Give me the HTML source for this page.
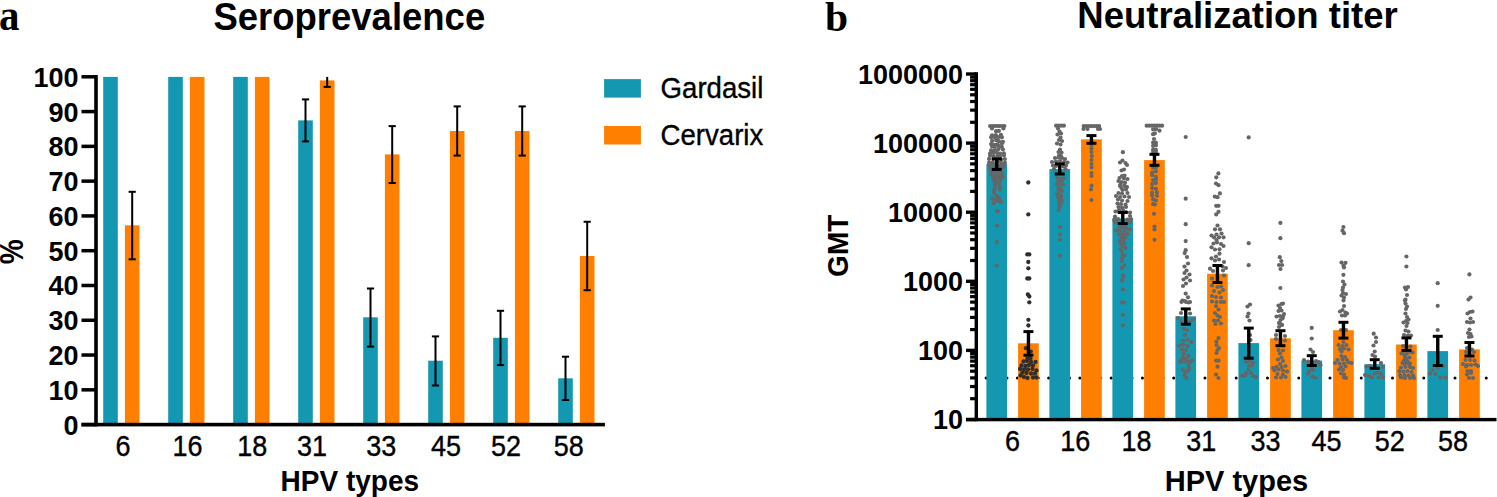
<!DOCTYPE html>
<html><head><meta charset="utf-8"><style>
html,body{margin:0;padding:0;background:#fff;}
svg{display:block;}
text{fill:#000;}
</style></head><body>
<svg width="1497" height="497" viewBox="0 0 1497 497">
<rect width="1497" height="497" fill="#fff"/>
<rect x="103.2" y="76.9" width="14.6" height="347.70" fill="#1497b1"/>
<rect x="124.9" y="225.3" width="14.6" height="199.30" fill="#ff8000"/>
<rect x="168.2" y="76.9" width="14.6" height="347.70" fill="#1497b1"/>
<rect x="189.9" y="76.9" width="14.6" height="347.70" fill="#ff8000"/>
<rect x="233.2" y="76.9" width="14.6" height="347.70" fill="#1497b1"/>
<rect x="254.9" y="76.9" width="14.6" height="347.70" fill="#ff8000"/>
<rect x="298.2" y="120.4" width="14.6" height="304.20" fill="#1497b1"/>
<rect x="319.9" y="80.4" width="14.6" height="344.20" fill="#ff8000"/>
<rect x="363.2" y="317.3" width="14.6" height="107.30" fill="#1497b1"/>
<rect x="384.9" y="154.4" width="14.6" height="270.20" fill="#ff8000"/>
<rect x="428.2" y="360.7" width="14.6" height="63.90" fill="#1497b1"/>
<rect x="449.9" y="131.0" width="14.6" height="293.60" fill="#ff8000"/>
<rect x="493.2" y="337.8" width="14.6" height="86.80" fill="#1497b1"/>
<rect x="514.9" y="131.0" width="14.6" height="293.60" fill="#ff8000"/>
<rect x="558.2" y="378.3" width="14.6" height="46.30" fill="#1497b1"/>
<rect x="579.9" y="256.0" width="14.6" height="168.60" fill="#ff8000"/>
<line x1="132.20000000000002" y1="191.8" x2="132.20000000000002" y2="259.3" stroke="#000" stroke-width="2"/>
<line x1="128.60000000000002" y1="191.8" x2="135.8" y2="191.8" stroke="#000" stroke-width="2"/>
<line x1="128.60000000000002" y1="259.3" x2="135.8" y2="259.3" stroke="#000" stroke-width="2"/>
<line x1="305.5" y1="99.4" x2="305.5" y2="141.4" stroke="#000" stroke-width="2"/>
<line x1="301.9" y1="99.4" x2="309.1" y2="99.4" stroke="#000" stroke-width="2"/>
<line x1="301.9" y1="141.4" x2="309.1" y2="141.4" stroke="#000" stroke-width="2"/>
<line x1="327.2" y1="76.9" x2="327.2" y2="86.9" stroke="#000" stroke-width="2"/>
<line x1="323.59999999999997" y1="86.9" x2="330.8" y2="86.9" stroke="#000" stroke-width="2"/>
<line x1="370.5" y1="288.5" x2="370.5" y2="346.6" stroke="#000" stroke-width="2"/>
<line x1="366.9" y1="288.5" x2="374.1" y2="288.5" stroke="#000" stroke-width="2"/>
<line x1="366.9" y1="346.6" x2="374.1" y2="346.6" stroke="#000" stroke-width="2"/>
<line x1="392.2" y1="126.1" x2="392.2" y2="183.0" stroke="#000" stroke-width="2"/>
<line x1="388.59999999999997" y1="126.1" x2="395.8" y2="126.1" stroke="#000" stroke-width="2"/>
<line x1="388.59999999999997" y1="183.0" x2="395.8" y2="183.0" stroke="#000" stroke-width="2"/>
<line x1="435.5" y1="336.4" x2="435.5" y2="385.5" stroke="#000" stroke-width="2"/>
<line x1="431.9" y1="336.4" x2="439.1" y2="336.4" stroke="#000" stroke-width="2"/>
<line x1="431.9" y1="385.5" x2="439.1" y2="385.5" stroke="#000" stroke-width="2"/>
<line x1="457.2" y1="106.4" x2="457.2" y2="155.6" stroke="#000" stroke-width="2"/>
<line x1="453.59999999999997" y1="106.4" x2="460.8" y2="106.4" stroke="#000" stroke-width="2"/>
<line x1="453.59999999999997" y1="155.6" x2="460.8" y2="155.6" stroke="#000" stroke-width="2"/>
<line x1="500.5" y1="310.8" x2="500.5" y2="365.1" stroke="#000" stroke-width="2"/>
<line x1="496.9" y1="310.8" x2="504.1" y2="310.8" stroke="#000" stroke-width="2"/>
<line x1="496.9" y1="365.1" x2="504.1" y2="365.1" stroke="#000" stroke-width="2"/>
<line x1="522.1999999999999" y1="106.4" x2="522.1999999999999" y2="155.6" stroke="#000" stroke-width="2"/>
<line x1="518.5999999999999" y1="106.4" x2="525.8" y2="106.4" stroke="#000" stroke-width="2"/>
<line x1="518.5999999999999" y1="155.6" x2="525.8" y2="155.6" stroke="#000" stroke-width="2"/>
<line x1="565.5" y1="356.7" x2="565.5" y2="400.0" stroke="#000" stroke-width="2"/>
<line x1="561.9" y1="356.7" x2="569.1" y2="356.7" stroke="#000" stroke-width="2"/>
<line x1="561.9" y1="400.0" x2="569.1" y2="400.0" stroke="#000" stroke-width="2"/>
<line x1="587.1999999999999" y1="221.75" x2="587.1999999999999" y2="290.2" stroke="#000" stroke-width="2"/>
<line x1="583.5999999999999" y1="221.75" x2="590.8" y2="221.75" stroke="#000" stroke-width="2"/>
<line x1="583.5999999999999" y1="290.2" x2="590.8" y2="290.2" stroke="#000" stroke-width="2"/>
<rect x="94.2" y="75.0" width="3.6" height="351.4" fill="#000"/>
<rect x="81.5" y="422.85" width="14" height="3.5" fill="#000"/>
<rect x="81.5" y="388.07" width="14" height="3.5" fill="#000"/>
<rect x="81.5" y="353.29" width="14" height="3.5" fill="#000"/>
<rect x="81.5" y="318.51" width="14" height="3.5" fill="#000"/>
<rect x="81.5" y="283.73" width="14" height="3.5" fill="#000"/>
<rect x="81.5" y="248.95" width="14" height="3.5" fill="#000"/>
<rect x="81.5" y="214.17" width="14" height="3.5" fill="#000"/>
<rect x="81.5" y="179.39" width="14" height="3.5" fill="#000"/>
<rect x="81.5" y="144.61" width="14" height="3.5" fill="#000"/>
<rect x="81.5" y="109.83" width="14" height="3.5" fill="#000"/>
<rect x="81.5" y="75.05" width="14" height="3.5" fill="#000"/>
<rect x="81.5" y="422.8" width="523.4" height="3.6" fill="#000"/>
<text transform="translate(78.50,434.60) scale(1.0,1.05)" style="font-size:27px;font-weight:bold;font-family:'Liberation Sans',sans-serif;text-anchor:end">0</text>
<text transform="translate(78.50,399.82) scale(1.0,1.05)" style="font-size:27px;font-weight:bold;font-family:'Liberation Sans',sans-serif;text-anchor:end">10</text>
<text transform="translate(78.50,365.04) scale(1.0,1.05)" style="font-size:27px;font-weight:bold;font-family:'Liberation Sans',sans-serif;text-anchor:end">20</text>
<text transform="translate(78.50,330.26) scale(1.0,1.05)" style="font-size:27px;font-weight:bold;font-family:'Liberation Sans',sans-serif;text-anchor:end">30</text>
<text transform="translate(78.50,295.48) scale(1.0,1.05)" style="font-size:27px;font-weight:bold;font-family:'Liberation Sans',sans-serif;text-anchor:end">40</text>
<text transform="translate(78.50,260.70) scale(1.0,1.05)" style="font-size:27px;font-weight:bold;font-family:'Liberation Sans',sans-serif;text-anchor:end">50</text>
<text transform="translate(78.50,225.92) scale(1.0,1.05)" style="font-size:27px;font-weight:bold;font-family:'Liberation Sans',sans-serif;text-anchor:end">60</text>
<text transform="translate(78.50,191.14) scale(1.0,1.05)" style="font-size:27px;font-weight:bold;font-family:'Liberation Sans',sans-serif;text-anchor:end">70</text>
<text transform="translate(78.50,156.36) scale(1.0,1.05)" style="font-size:27px;font-weight:bold;font-family:'Liberation Sans',sans-serif;text-anchor:end">80</text>
<text transform="translate(78.50,121.58) scale(1.0,1.05)" style="font-size:27px;font-weight:bold;font-family:'Liberation Sans',sans-serif;text-anchor:end">90</text>
<text transform="translate(78.50,86.80) scale(1.0,1.05)" style="font-size:27px;font-weight:bold;font-family:'Liberation Sans',sans-serif;text-anchor:end">100</text>
<text transform="translate(123.00,455.80) scale(1.0,1.1)" style="font-size:27px;font-weight:normal;font-family:'Liberation Sans',sans-serif;text-anchor:middle;stroke:#000;stroke-width:0.35px">6</text>
<text transform="translate(187.50,455.80) scale(1.0,1.1)" style="font-size:27px;font-weight:normal;font-family:'Liberation Sans',sans-serif;text-anchor:middle;stroke:#000;stroke-width:0.35px">16</text>
<text transform="translate(252.20,455.80) scale(1.0,1.1)" style="font-size:27px;font-weight:normal;font-family:'Liberation Sans',sans-serif;text-anchor:middle;stroke:#000;stroke-width:0.35px">18</text>
<text transform="translate(311.90,455.80) scale(1.0,1.1)" style="font-size:27px;font-weight:normal;font-family:'Liberation Sans',sans-serif;text-anchor:middle;stroke:#000;stroke-width:0.35px">31</text>
<text transform="translate(381.30,455.80) scale(1.0,1.1)" style="font-size:27px;font-weight:normal;font-family:'Liberation Sans',sans-serif;text-anchor:middle;stroke:#000;stroke-width:0.35px">33</text>
<text transform="translate(446.00,455.80) scale(1.0,1.1)" style="font-size:27px;font-weight:normal;font-family:'Liberation Sans',sans-serif;text-anchor:middle;stroke:#000;stroke-width:0.35px">45</text>
<text transform="translate(506.00,455.80) scale(1.0,1.1)" style="font-size:27px;font-weight:normal;font-family:'Liberation Sans',sans-serif;text-anchor:middle;stroke:#000;stroke-width:0.35px">52</text>
<text transform="translate(568.80,455.80) scale(1.0,1.1)" style="font-size:27px;font-weight:normal;font-family:'Liberation Sans',sans-serif;text-anchor:middle;stroke:#000;stroke-width:0.35px">58</text>
<text transform="translate(349.80,491.20) scale(1.0,1.08)" style="font-size:28px;font-weight:bold;font-family:'Liberation Sans',sans-serif;text-anchor:middle">HPV types</text>
<text transform="translate(349.30,29.80) scale(1.0,1.08)" style="font-size:36.5px;font-weight:bold;font-family:'Liberation Sans',sans-serif;text-anchor:middle">Seroprevalence</text>
<text transform="translate(-1.00,30.10) scale(1.0,1.08)" style="font-size:41px;font-weight:bold;font-family:'Liberation Serif',serif;text-anchor:start">a</text>
<text transform="translate(22.50,251.80) rotate(-90) scale(1.0,1.17)" style="font-size:28px;font-weight:bold;font-family:'Liberation Sans',sans-serif;text-anchor:middle">%</text>
<rect x="604.1" y="79.1" width="36.8" height="18.5" fill="#1497b1"/>
<rect x="604.1" y="126" width="36.8" height="18.5" fill="#ff8000"/>
<text transform="translate(660.60,98.10) scale(1.0,1.08)" style="font-size:27.6px;font-weight:normal;font-family:'Liberation Sans',sans-serif;text-anchor:start;stroke:#000;stroke-width:0.35px">Gardasil</text>
<text transform="translate(660.60,145.20) scale(1.0,1.05)" style="font-size:27.6px;font-weight:normal;font-family:'Liberation Sans',sans-serif;text-anchor:start;stroke:#000;stroke-width:0.35px">Cervarix</text>
<circle cx="975.70" cy="378" r="1.5" fill="#000"/>
<circle cx="986.12" cy="378" r="1.5" fill="#000"/>
<circle cx="996.54" cy="378" r="1.5" fill="#000"/>
<circle cx="1006.96" cy="378" r="1.5" fill="#000"/>
<circle cx="1017.38" cy="378" r="1.5" fill="#000"/>
<circle cx="1027.80" cy="378" r="1.5" fill="#000"/>
<circle cx="1038.22" cy="378" r="1.5" fill="#000"/>
<circle cx="1048.64" cy="378" r="1.5" fill="#000"/>
<circle cx="1059.06" cy="378" r="1.5" fill="#000"/>
<circle cx="1069.48" cy="378" r="1.5" fill="#000"/>
<circle cx="1079.90" cy="378" r="1.5" fill="#000"/>
<circle cx="1090.32" cy="378" r="1.5" fill="#000"/>
<circle cx="1100.74" cy="378" r="1.5" fill="#000"/>
<circle cx="1111.16" cy="378" r="1.5" fill="#000"/>
<circle cx="1121.58" cy="378" r="1.5" fill="#000"/>
<circle cx="1132.00" cy="378" r="1.5" fill="#000"/>
<circle cx="1142.42" cy="378" r="1.5" fill="#000"/>
<circle cx="1152.84" cy="378" r="1.5" fill="#000"/>
<circle cx="1163.26" cy="378" r="1.5" fill="#000"/>
<circle cx="1173.68" cy="378" r="1.5" fill="#000"/>
<circle cx="1184.10" cy="378" r="1.5" fill="#000"/>
<circle cx="1194.52" cy="378" r="1.5" fill="#000"/>
<circle cx="1204.94" cy="378" r="1.5" fill="#000"/>
<circle cx="1215.36" cy="378" r="1.5" fill="#000"/>
<circle cx="1225.78" cy="378" r="1.5" fill="#000"/>
<circle cx="1236.20" cy="378" r="1.5" fill="#000"/>
<circle cx="1246.62" cy="378" r="1.5" fill="#000"/>
<circle cx="1257.04" cy="378" r="1.5" fill="#000"/>
<circle cx="1267.46" cy="378" r="1.5" fill="#000"/>
<circle cx="1277.88" cy="378" r="1.5" fill="#000"/>
<circle cx="1288.30" cy="378" r="1.5" fill="#000"/>
<circle cx="1298.72" cy="378" r="1.5" fill="#000"/>
<circle cx="1309.14" cy="378" r="1.5" fill="#000"/>
<circle cx="1319.56" cy="378" r="1.5" fill="#000"/>
<circle cx="1329.98" cy="378" r="1.5" fill="#000"/>
<circle cx="1340.40" cy="378" r="1.5" fill="#000"/>
<circle cx="1350.82" cy="378" r="1.5" fill="#000"/>
<circle cx="1361.24" cy="378" r="1.5" fill="#000"/>
<circle cx="1371.66" cy="378" r="1.5" fill="#000"/>
<circle cx="1382.08" cy="378" r="1.5" fill="#000"/>
<circle cx="1392.50" cy="378" r="1.5" fill="#000"/>
<circle cx="1402.92" cy="378" r="1.5" fill="#000"/>
<circle cx="1413.34" cy="378" r="1.5" fill="#000"/>
<circle cx="1423.76" cy="378" r="1.5" fill="#000"/>
<circle cx="1434.18" cy="378" r="1.5" fill="#000"/>
<circle cx="1444.60" cy="378" r="1.5" fill="#000"/>
<circle cx="1455.02" cy="378" r="1.5" fill="#000"/>
<circle cx="1465.44" cy="378" r="1.5" fill="#000"/>
<circle cx="1475.86" cy="378" r="1.5" fill="#000"/>
<circle cx="1486.28" cy="378" r="1.5" fill="#000"/>
<rect x="986.4" y="164.1" width="20.7" height="255.40" fill="#1497b1"/>
<rect x="1018.1" y="343.3" width="20.7" height="76.20" fill="#ff8000"/>
<rect x="1049.4" y="169.1" width="20.7" height="250.40" fill="#1497b1"/>
<rect x="1081.1" y="139.3" width="20.7" height="280.20" fill="#ff8000"/>
<rect x="1112.4" y="218.4" width="20.7" height="201.10" fill="#1497b1"/>
<rect x="1144.1" y="160.1" width="20.7" height="259.40" fill="#ff8000"/>
<rect x="1175.4" y="316.3" width="20.7" height="103.20" fill="#1497b1"/>
<rect x="1207.1" y="273.7" width="20.7" height="145.80" fill="#ff8000"/>
<rect x="1238.4" y="343.1" width="20.7" height="76.40" fill="#1497b1"/>
<rect x="1270.1" y="338.3" width="20.7" height="81.20" fill="#ff8000"/>
<rect x="1301.4" y="360.6" width="20.7" height="58.90" fill="#1497b1"/>
<rect x="1333.1" y="330.2" width="20.7" height="89.30" fill="#ff8000"/>
<rect x="1364.4" y="364.2" width="20.7" height="55.30" fill="#1497b1"/>
<rect x="1396.1" y="344.5" width="20.7" height="75.00" fill="#ff8000"/>
<rect x="1427.4" y="351.1" width="20.7" height="68.40" fill="#1497b1"/>
<rect x="1459.1" y="349.4" width="20.7" height="70.10" fill="#ff8000"/>
<g fill="#666666"><circle cx="990.1" cy="126.0" r="2.1"/><circle cx="992.5" cy="126.0" r="2.1"/><circle cx="994.9" cy="126.0" r="2.1"/><circle cx="997.2" cy="126.0" r="2.1"/><circle cx="999.6" cy="126.0" r="2.1"/><circle cx="1002.0" cy="126.0" r="2.1"/><circle cx="1004.4" cy="126.0" r="2.1"/><circle cx="992.0" cy="128.5" r="2.1"/><circle cx="1003.4" cy="128.5" r="2.1"/><circle cx="996.1" cy="131.2" r="2.1"/><circle cx="998.9" cy="130.9" r="2.1"/><circle cx="992.1" cy="135.3" r="2.1"/><circle cx="995.8" cy="135.1" r="2.1"/><circle cx="1000.9" cy="134.8" r="2.1"/><circle cx="991.1" cy="137.2" r="2.1"/><circle cx="994.7" cy="137.2" r="2.1"/><circle cx="998.2" cy="137.2" r="2.1"/><circle cx="1001.9" cy="137.3" r="2.1"/><circle cx="992.1" cy="140.9" r="2.1"/><circle cx="996.2" cy="140.3" r="2.1"/><circle cx="998.9" cy="141.2" r="2.1"/><circle cx="1002.9" cy="141.8" r="2.1"/><circle cx="991.1" cy="144.1" r="2.1"/><circle cx="994.5" cy="144.9" r="2.1"/><circle cx="997.6" cy="144.6" r="2.1"/><circle cx="1001.9" cy="143.6" r="2.1"/><circle cx="992.1" cy="146.4" r="2.1"/><circle cx="994.8" cy="146.7" r="2.1"/><circle cx="999.1" cy="146.4" r="2.1"/><circle cx="1001.9" cy="147.1" r="2.1"/><circle cx="991.1" cy="150.3" r="2.1"/><circle cx="994.8" cy="150.1" r="2.1"/><circle cx="998.3" cy="149.2" r="2.1"/><circle cx="1002.9" cy="149.5" r="2.1"/><circle cx="990.1" cy="153.3" r="2.1"/><circle cx="993.4" cy="152.7" r="2.1"/><circle cx="997.1" cy="152.9" r="2.1"/><circle cx="1000.1" cy="153.5" r="2.1"/><circle cx="1003.9" cy="153.4" r="2.1"/><circle cx="990.1" cy="155.5" r="2.1"/><circle cx="993.7" cy="156.0" r="2.1"/><circle cx="997.6" cy="156.4" r="2.1"/><circle cx="1000.1" cy="156.9" r="2.1"/><circle cx="1003.9" cy="155.3" r="2.1"/><circle cx="989.1" cy="158.9" r="2.1"/><circle cx="993.5" cy="158.4" r="2.1"/><circle cx="997.0" cy="158.2" r="2.1"/><circle cx="1001.2" cy="159.5" r="2.1"/><circle cx="1004.9" cy="159.1" r="2.1"/><circle cx="989.1" cy="162.7" r="2.1"/><circle cx="992.8" cy="162.4" r="2.1"/><circle cx="997.2" cy="162.1" r="2.1"/><circle cx="1000.9" cy="162.6" r="2.1"/><circle cx="1004.9" cy="162.8" r="2.1"/><circle cx="989.1" cy="165.0" r="2.1"/><circle cx="993.1" cy="164.2" r="2.1"/><circle cx="996.8" cy="165.3" r="2.1"/><circle cx="1001.0" cy="165.6" r="2.1"/><circle cx="1003.9" cy="164.6" r="2.1"/><circle cx="990.1" cy="167.8" r="2.1"/><circle cx="994.6" cy="167.1" r="2.1"/><circle cx="998.6" cy="167.4" r="2.1"/><circle cx="1002.9" cy="167.3" r="2.1"/><circle cx="991.1" cy="171.2" r="2.1"/><circle cx="995.1" cy="171.3" r="2.1"/><circle cx="997.9" cy="171.8" r="2.1"/><circle cx="1001.9" cy="172.7" r="2.1"/><circle cx="991.1" cy="174.2" r="2.1"/><circle cx="994.6" cy="175.1" r="2.1"/><circle cx="998.9" cy="175.6" r="2.1"/><circle cx="1001.9" cy="175.7" r="2.1"/><circle cx="993.1" cy="177.6" r="2.1"/><circle cx="996.2" cy="177.7" r="2.1"/><circle cx="1000.2" cy="178.8" r="2.1"/><circle cx="1002.9" cy="177.4" r="2.1"/><circle cx="994.1" cy="180.4" r="2.1"/><circle cx="996.6" cy="180.5" r="2.1"/><circle cx="999.9" cy="181.0" r="2.1"/><circle cx="995.1" cy="184.2" r="2.1"/><circle cx="998.9" cy="183.6" r="2.1"/><circle cx="995.1" cy="186.1" r="2.1"/><circle cx="999.9" cy="186.9" r="2.1"/><circle cx="994.5" cy="189.0" r="2.1"/><circle cx="1000.2" cy="189.6" r="2.1"/><circle cx="994.0" cy="191.5" r="2.1"/><circle cx="994.5" cy="194.0" r="2.1"/><circle cx="997.0" cy="196.0" r="2.1"/><circle cx="996.5" cy="198.5" r="2.1"/><circle cx="999.0" cy="198.0" r="2.1"/><circle cx="992.4" cy="198.7" r="2.1"/><circle cx="996.0" cy="200.5" r="2.1"/><circle cx="999.0" cy="201.0" r="2.1"/><circle cx="993.7" cy="203.2" r="2.1"/><circle cx="1001.0" cy="202.1" r="2.1"/><circle cx="997.1" cy="211.0" r="2.1"/><circle cx="998.0" cy="211.5" r="2.1"/><circle cx="997.0" cy="225.6" r="2.1"/><circle cx="996.7" cy="241.8" r="2.1"/><circle cx="996.7" cy="265.6" r="2.1"/></g>
<g fill="#2e2e2e"><circle cx="1028.3" cy="182.5" r="2.15"/><circle cx="1028.3" cy="214.4" r="2.15"/><circle cx="1027.3" cy="254.4" r="2.15"/><circle cx="1029.3" cy="254.4" r="2.15"/><circle cx="1028.3" cy="262.0" r="2.15"/><circle cx="1028.3" cy="268.3" r="2.15"/><circle cx="1027.3" cy="278.5" r="2.15"/><circle cx="1029.3" cy="278.5" r="2.15"/><circle cx="1027.9" cy="294.5" r="2.15"/><circle cx="1029.3" cy="296.5" r="2.15"/><circle cx="1029.3" cy="302.3" r="2.15"/><circle cx="1028.4" cy="319.8" r="2.15"/><circle cx="1028.4" cy="325.5" r="2.15"/><circle cx="1025.9" cy="348.2" r="2.15"/><circle cx="1030.8" cy="351.6" r="2.15"/><circle cx="1027.5" cy="358.5" r="2.15"/><circle cx="1030.5" cy="358.5" r="2.15"/><circle cx="1023.5" cy="361.5" r="2.15"/><circle cx="1027.0" cy="361.0" r="2.15"/><circle cx="1031.0" cy="362.0" r="2.15"/><circle cx="1035.5" cy="362.0" r="2.15"/><circle cx="1021.5" cy="365.5" r="2.15"/><circle cx="1025.5" cy="366.0" r="2.15"/><circle cx="1029.0" cy="365.0" r="2.15"/><circle cx="1033.0" cy="365.5" r="2.15"/><circle cx="1020.0" cy="369.0" r="2.15"/><circle cx="1024.0" cy="369.5" r="2.15"/><circle cx="1028.0" cy="369.5" r="2.15"/><circle cx="1032.5" cy="369.0" r="2.15"/><circle cx="1036.5" cy="370.5" r="2.15"/><circle cx="1022.5" cy="372.5" r="2.15"/><circle cx="1026.5" cy="373.0" r="2.15"/><circle cx="1031.0" cy="373.5" r="2.15"/><circle cx="1035.0" cy="373.5" r="2.15"/><circle cx="1020.5" cy="375.5" r="2.15"/><circle cx="1024.0" cy="377.0" r="2.15"/><circle cx="1033.0" cy="377.5" r="2.15"/><circle cx="1036.5" cy="377.5" r="2.15"/><circle cx="1027.5" cy="378.0" r="2.15"/></g>
<g fill="#666666"><circle cx="1056.1" cy="125.7" r="2.1"/><circle cx="1058.7" cy="125.7" r="2.1"/><circle cx="1061.3" cy="125.7" r="2.1"/><circle cx="1063.9" cy="125.7" r="2.1"/><circle cx="1058.0" cy="128.5" r="2.1"/><circle cx="1059.5" cy="131.5" r="2.1"/><circle cx="1057.5" cy="134.5" r="2.1"/><circle cx="1061.0" cy="133.5" r="2.1"/><circle cx="1060.5" cy="137.5" r="2.1"/><circle cx="1059.0" cy="140.0" r="2.1"/><circle cx="1062.0" cy="141.0" r="2.1"/><circle cx="1057.0" cy="143.5" r="2.1"/><circle cx="1060.5" cy="144.5" r="2.1"/><circle cx="1060.0" cy="149.5" r="2.1"/><circle cx="1058.5" cy="152.0" r="2.1"/><circle cx="1061.5" cy="152.5" r="2.1"/><circle cx="1059.0" cy="155.5" r="2.1"/><circle cx="1061.0" cy="156.0" r="2.1"/><circle cx="1055.0" cy="158.0" r="2.1"/><circle cx="1058.5" cy="157.5" r="2.1"/><circle cx="1062.0" cy="158.0" r="2.1"/><circle cx="1065.0" cy="159.0" r="2.1"/><circle cx="1052.0" cy="162.0" r="2.1"/><circle cx="1056.0" cy="161.5" r="2.1"/><circle cx="1060.0" cy="161.0" r="2.1"/><circle cx="1064.0" cy="162.0" r="2.1"/><circle cx="1067.5" cy="162.5" r="2.1"/><circle cx="1053.0" cy="165.5" r="2.1"/><circle cx="1066.0" cy="165.5" r="2.1"/><circle cx="1056.0" cy="166.0" r="2.1"/><circle cx="1063.5" cy="166.5" r="2.1"/><circle cx="1054.0" cy="169.0" r="2.1"/><circle cx="1065.5" cy="169.0" r="2.1"/><circle cx="1057.1" cy="177.8" r="2.1"/><circle cx="1060.6" cy="178.8" r="2.1"/><circle cx="1063.9" cy="178.3" r="2.1"/><circle cx="1058.1" cy="181.0" r="2.1"/><circle cx="1061.9" cy="181.2" r="2.1"/><circle cx="1057.1" cy="184.3" r="2.1"/><circle cx="1059.3" cy="184.7" r="2.1"/><circle cx="1062.9" cy="184.5" r="2.1"/><circle cx="1058.1" cy="188.7" r="2.1"/><circle cx="1060.9" cy="188.5" r="2.1"/><circle cx="1059.1" cy="190.8" r="2.1"/><circle cx="1061.9" cy="190.8" r="2.1"/><circle cx="1057.1" cy="194.3" r="2.1"/><circle cx="1060.9" cy="195.2" r="2.1"/><circle cx="1058.1" cy="197.2" r="2.1"/><circle cx="1060.9" cy="197.2" r="2.1"/><circle cx="1059.1" cy="200.5" r="2.1"/><circle cx="1061.9" cy="200.4" r="2.1"/><circle cx="1059.1" cy="203.7" r="2.1"/><circle cx="1060.9" cy="203.2" r="2.1"/><circle cx="1059.1" cy="206.1" r="2.1"/><circle cx="1059.9" cy="206.4" r="2.1"/><circle cx="1058.7" cy="210.0" r="2.1"/><circle cx="1060.0" cy="227.0" r="2.1"/><circle cx="1060.0" cy="234.5" r="2.1"/><circle cx="1060.0" cy="239.8" r="2.1"/><circle cx="1060.0" cy="255.7" r="2.1"/></g>
<g fill="#666666"><circle cx="1083.7" cy="126.1" r="2.1"/><circle cx="1086.3" cy="126.1" r="2.1"/><circle cx="1088.8" cy="126.1" r="2.1"/><circle cx="1091.4" cy="126.1" r="2.1"/><circle cx="1094.0" cy="126.1" r="2.1"/><circle cx="1096.5" cy="126.1" r="2.1"/><circle cx="1099.1" cy="126.1" r="2.1"/><circle cx="1083.5" cy="129.0" r="2.1"/><circle cx="1087.5" cy="129.0" r="2.1"/><circle cx="1098.0" cy="129.0" r="2.1"/><circle cx="1100.0" cy="129.0" r="2.1"/><circle cx="1091.5" cy="145.0" r="2.1"/><circle cx="1091.5" cy="148.5" r="2.1"/><circle cx="1091.5" cy="152.0" r="2.1"/><circle cx="1091.8" cy="156.0" r="2.1"/><circle cx="1091.5" cy="160.0" r="2.1"/><circle cx="1091.5" cy="164.0" r="2.1"/><circle cx="1091.5" cy="167.5" r="2.1"/><circle cx="1091.5" cy="173.0" r="2.1"/><circle cx="1091.5" cy="176.0" r="2.1"/><circle cx="1091.5" cy="185.7" r="2.1"/><circle cx="1091.0" cy="189.5" r="2.1"/><circle cx="1091.5" cy="200.1" r="2.1"/></g>
<g fill="#666666"><circle cx="1122.9" cy="152.2" r="2.1"/><circle cx="1120.0" cy="162.5" r="2.1"/><circle cx="1122.5" cy="160.5" r="2.1"/><circle cx="1125.5" cy="163.0" r="2.1"/><circle cx="1127.0" cy="165.0" r="2.1"/><circle cx="1121.5" cy="170.5" r="2.1"/><circle cx="1124.0" cy="169.5" r="2.1"/><circle cx="1122.0" cy="176.0" r="2.1"/><circle cx="1124.5" cy="175.5" r="2.1"/><circle cx="1119.5" cy="178.0" r="2.1"/><circle cx="1124.0" cy="178.5" r="2.1"/><circle cx="1127.5" cy="179.0" r="2.1"/><circle cx="1118.5" cy="181.0" r="2.1"/><circle cx="1121.5" cy="182.0" r="2.1"/><circle cx="1125.0" cy="182.5" r="2.1"/><circle cx="1120.5" cy="184.5" r="2.1"/><circle cx="1124.5" cy="185.5" r="2.1"/><circle cx="1127.0" cy="187.0" r="2.1"/><circle cx="1121.5" cy="188.0" r="2.1"/><circle cx="1120.0" cy="186.0" r="2.1"/><circle cx="1125.5" cy="187.0" r="2.1"/><circle cx="1122.5" cy="190.0" r="2.1"/><circle cx="1126.0" cy="189.5" r="2.1"/><circle cx="1118.5" cy="193.0" r="2.1"/><circle cx="1122.0" cy="193.5" r="2.1"/><circle cx="1127.5" cy="193.0" r="2.1"/><circle cx="1116.0" cy="196.0" r="2.1"/><circle cx="1120.0" cy="197.0" r="2.1"/><circle cx="1124.5" cy="196.5" r="2.1"/><circle cx="1129.0" cy="197.0" r="2.1"/><circle cx="1118.0" cy="199.5" r="2.1"/><circle cx="1122.0" cy="200.5" r="2.1"/><circle cx="1127.5" cy="201.0" r="2.1"/><circle cx="1117.5" cy="203.5" r="2.1"/><circle cx="1121.0" cy="204.0" r="2.1"/><circle cx="1125.5" cy="204.5" r="2.1"/><circle cx="1118.5" cy="207.0" r="2.1"/><circle cx="1122.0" cy="207.5" r="2.1"/><circle cx="1126.0" cy="207.0" r="2.1"/><circle cx="1119.0" cy="210.0" r="2.1"/><circle cx="1123.0" cy="210.0" r="2.1"/><circle cx="1115.5" cy="211.5" r="2.1"/><circle cx="1119.0" cy="211.5" r="2.1"/><circle cx="1126.0" cy="212.0" r="2.1"/><circle cx="1130.0" cy="212.5" r="2.1"/><circle cx="1115.0" cy="216.5" r="2.1"/><circle cx="1130.0" cy="216.0" r="2.1"/><circle cx="1114.5" cy="219.5" r="2.1"/><circle cx="1118.0" cy="219.0" r="2.1"/><circle cx="1127.5" cy="219.5" r="2.1"/><circle cx="1131.0" cy="219.0" r="2.1"/><circle cx="1116.0" cy="222.5" r="2.1"/><circle cx="1129.5" cy="222.5" r="2.1"/><circle cx="1114.5" cy="221.0" r="2.1"/><circle cx="1130.0" cy="221.5" r="2.1"/><circle cx="1119.0" cy="228.0" r="2.1"/><circle cx="1123.0" cy="227.5" r="2.1"/><circle cx="1126.0" cy="228.0" r="2.1"/><circle cx="1116.0" cy="230.5" r="2.1"/><circle cx="1120.0" cy="231.0" r="2.1"/><circle cx="1124.5" cy="231.5" r="2.1"/><circle cx="1129.5" cy="229.5" r="2.1"/><circle cx="1119.0" cy="234.5" r="2.1"/><circle cx="1123.0" cy="234.5" r="2.1"/><circle cx="1127.5" cy="234.0" r="2.1"/><circle cx="1121.5" cy="237.5" r="2.1"/><circle cx="1125.0" cy="237.5" r="2.1"/><circle cx="1120.0" cy="240.5" r="2.1"/><circle cx="1123.5" cy="241.0" r="2.1"/><circle cx="1120.5" cy="243.5" r="2.1"/><circle cx="1124.0" cy="244.0" r="2.1"/><circle cx="1122.5" cy="246.5" r="2.1"/><circle cx="1125.5" cy="248.0" r="2.1"/><circle cx="1120.5" cy="249.5" r="2.1"/><circle cx="1122.0" cy="251.0" r="2.1"/><circle cx="1122.5" cy="254.5" r="2.1"/><circle cx="1124.5" cy="255.5" r="2.1"/><circle cx="1122.0" cy="258.0" r="2.1"/><circle cx="1122.0" cy="261.0" r="2.1"/><circle cx="1124.3" cy="265.5" r="2.1"/><circle cx="1122.0" cy="268.2" r="2.1"/><circle cx="1123.0" cy="275.4" r="2.1"/><circle cx="1123.0" cy="277.5" r="2.1"/><circle cx="1122.0" cy="280.6" r="2.1"/><circle cx="1123.0" cy="289.5" r="2.1"/><circle cx="1122.0" cy="302.5" r="2.1"/><circle cx="1124.0" cy="302.5" r="2.1"/><circle cx="1123.0" cy="315.0" r="2.1"/><circle cx="1123.0" cy="325.5" r="2.1"/></g>
<g fill="#666666"><circle cx="1146.7" cy="125.7" r="2.1"/><circle cx="1149.3" cy="125.7" r="2.1"/><circle cx="1151.8" cy="125.7" r="2.1"/><circle cx="1154.4" cy="125.7" r="2.1"/><circle cx="1157.0" cy="125.7" r="2.1"/><circle cx="1159.5" cy="125.7" r="2.1"/><circle cx="1162.1" cy="125.7" r="2.1"/><circle cx="1153.1" cy="129.3" r="2.1"/><circle cx="1156.1" cy="129.1" r="2.1"/><circle cx="1159.5" cy="130.7" r="2.1"/><circle cx="1153.1" cy="134.2" r="2.1"/><circle cx="1154.9" cy="133.4" r="2.1"/><circle cx="1154.0" cy="139.0" r="2.1"/><circle cx="1153.1" cy="142.6" r="2.1"/><circle cx="1155.9" cy="142.7" r="2.1"/><circle cx="1153.1" cy="145.8" r="2.1"/><circle cx="1155.9" cy="145.3" r="2.1"/><circle cx="1153.1" cy="149.6" r="2.1"/><circle cx="1155.9" cy="149.9" r="2.1"/><circle cx="1153.1" cy="151.9" r="2.1"/><circle cx="1155.9" cy="152.0" r="2.1"/><circle cx="1154.1" cy="154.3" r="2.1"/><circle cx="1154.9" cy="154.3" r="2.1"/><circle cx="1153.1" cy="167.7" r="2.1"/><circle cx="1155.9" cy="167.6" r="2.1"/><circle cx="1152.1" cy="172.6" r="2.1"/><circle cx="1155.9" cy="171.4" r="2.1"/><circle cx="1152.1" cy="175.1" r="2.1"/><circle cx="1155.9" cy="176.8" r="2.1"/><circle cx="1153.1" cy="180.1" r="2.1"/><circle cx="1155.9" cy="179.4" r="2.1"/><circle cx="1152.1" cy="184.1" r="2.1"/><circle cx="1155.9" cy="183.1" r="2.1"/><circle cx="1152.1" cy="188.1" r="2.1"/><circle cx="1155.9" cy="188.9" r="2.1"/><circle cx="1152.1" cy="192.7" r="2.1"/><circle cx="1156.9" cy="192.4" r="2.1"/><circle cx="1152.1" cy="195.6" r="2.1"/><circle cx="1156.9" cy="195.8" r="2.1"/><circle cx="1153.1" cy="199.4" r="2.1"/><circle cx="1155.9" cy="200.5" r="2.1"/><circle cx="1153.1" cy="204.1" r="2.1"/><circle cx="1154.9" cy="204.5" r="2.1"/><circle cx="1154.0" cy="213.8" r="2.1"/><circle cx="1154.5" cy="226.5" r="2.1"/><circle cx="1154.5" cy="229.5" r="2.1"/><circle cx="1154.5" cy="239.8" r="2.1"/></g>
<g fill="#666666"><circle cx="1185.7" cy="137.0" r="2.1"/><circle cx="1185.7" cy="198.7" r="2.1"/><circle cx="1185.7" cy="224.2" r="2.1"/><circle cx="1185.7" cy="241.1" r="2.1"/><circle cx="1185.7" cy="250.2" r="2.1"/><circle cx="1184.7" cy="253.1" r="2.1"/><circle cx="1187.0" cy="257.0" r="2.1"/><circle cx="1188.0" cy="263.5" r="2.1"/><circle cx="1184.5" cy="266.5" r="2.1"/><circle cx="1186.5" cy="270.5" r="2.1"/><circle cx="1184.5" cy="273.0" r="2.1"/><circle cx="1189.5" cy="274.5" r="2.1"/><circle cx="1186.5" cy="277.5" r="2.1"/><circle cx="1183.5" cy="279.5" r="2.1"/><circle cx="1190.0" cy="280.5" r="2.1"/><circle cx="1186.0" cy="283.5" r="2.1"/><circle cx="1183.0" cy="286.0" r="2.1"/><circle cx="1185.7" cy="293.6" r="2.1"/><circle cx="1188.0" cy="297.3" r="2.1"/><circle cx="1182.5" cy="300.5" r="2.1"/><circle cx="1186.0" cy="302.0" r="2.1"/><circle cx="1190.0" cy="302.0" r="2.1"/><circle cx="1181.5" cy="302.0" r="2.1"/><circle cx="1185.0" cy="301.0" r="2.1"/><circle cx="1188.5" cy="302.5" r="2.1"/><circle cx="1181.0" cy="313.0" r="2.1"/><circle cx="1190.0" cy="313.5" r="2.1"/><circle cx="1178.0" cy="318.0" r="2.1"/><circle cx="1193.0" cy="319.0" r="2.1"/><circle cx="1181.0" cy="321.0" r="2.1"/><circle cx="1190.5" cy="321.0" r="2.1"/><circle cx="1184.0" cy="329.0" r="2.1"/><circle cx="1187.0" cy="330.0" r="2.1"/><circle cx="1185.0" cy="335.0" r="2.1"/><circle cx="1183.0" cy="340.5" r="2.1"/><circle cx="1187.5" cy="340.0" r="2.1"/><circle cx="1191.5" cy="342.0" r="2.1"/><circle cx="1179.0" cy="345.5" r="2.1"/><circle cx="1183.0" cy="344.5" r="2.1"/><circle cx="1187.5" cy="346.0" r="2.1"/><circle cx="1182.0" cy="349.5" r="2.1"/><circle cx="1186.0" cy="350.0" r="2.1"/><circle cx="1183.5" cy="353.5" r="2.1"/><circle cx="1188.0" cy="356.0" r="2.1"/><circle cx="1182.5" cy="358.5" r="2.1"/><circle cx="1186.0" cy="359.0" r="2.1"/><circle cx="1183.0" cy="357.0" r="2.1"/><circle cx="1188.5" cy="356.0" r="2.1"/><circle cx="1181.0" cy="361.0" r="2.1"/><circle cx="1185.0" cy="362.0" r="2.1"/><circle cx="1189.0" cy="361.5" r="2.1"/><circle cx="1192.0" cy="360.5" r="2.1"/><circle cx="1180.0" cy="362.0" r="2.1"/><circle cx="1189.5" cy="362.5" r="2.1"/><circle cx="1188.5" cy="365.5" r="2.1"/><circle cx="1183.0" cy="369.5" r="2.1"/><circle cx="1189.0" cy="368.5" r="2.1"/><circle cx="1185.5" cy="372.5" r="2.1"/><circle cx="1188.0" cy="370.5" r="2.1"/><circle cx="1184.5" cy="375.5" r="2.1"/><circle cx="1186.5" cy="378.0" r="2.1"/></g>
<g fill="#666666"><circle cx="1218.4" cy="173.4" r="2.1"/><circle cx="1216.3" cy="177.3" r="2.1"/><circle cx="1216.0" cy="183.5" r="2.1"/><circle cx="1218.5" cy="185.2" r="2.1"/><circle cx="1219.9" cy="193.4" r="2.1"/><circle cx="1214.8" cy="196.6" r="2.1"/><circle cx="1217.5" cy="197.2" r="2.1"/><circle cx="1216.2" cy="205.8" r="2.1"/><circle cx="1218.5" cy="205.8" r="2.1"/><circle cx="1218.5" cy="211.8" r="2.1"/><circle cx="1216.2" cy="214.4" r="2.1"/><circle cx="1217.5" cy="225.5" r="2.1"/><circle cx="1215.0" cy="229.3" r="2.1"/><circle cx="1220.0" cy="229.3" r="2.1"/><circle cx="1211.5" cy="235.5" r="2.1"/><circle cx="1216.5" cy="234.5" r="2.1"/><circle cx="1221.5" cy="233.5" r="2.1"/><circle cx="1223.5" cy="237.3" r="2.1"/><circle cx="1214.0" cy="237.3" r="2.1"/><circle cx="1219.0" cy="237.3" r="2.1"/><circle cx="1216.5" cy="240.0" r="2.1"/><circle cx="1213.5" cy="243.5" r="2.1"/><circle cx="1217.0" cy="242.5" r="2.1"/><circle cx="1221.0" cy="244.0" r="2.1"/><circle cx="1223.5" cy="246.0" r="2.1"/><circle cx="1211.5" cy="247.3" r="2.1"/><circle cx="1215.0" cy="249.5" r="2.1"/><circle cx="1219.5" cy="249.3" r="2.1"/><circle cx="1219.5" cy="253.7" r="2.1"/><circle cx="1216.0" cy="256.5" r="2.1"/><circle cx="1211.5" cy="258.3" r="2.1"/><circle cx="1215.0" cy="260.5" r="2.1"/><circle cx="1219.0" cy="259.5" r="2.1"/><circle cx="1224.0" cy="262.0" r="2.1"/><circle cx="1222.5" cy="266.5" r="2.1"/><circle cx="1210.0" cy="268.7" r="2.1"/><circle cx="1213.0" cy="271.0" r="2.1"/><circle cx="1223.0" cy="270.5" r="2.1"/><circle cx="1226.0" cy="268.0" r="2.1"/><circle cx="1212.0" cy="278.5" r="2.1"/><circle cx="1224.0" cy="275.5" r="2.1"/><circle cx="1212.0" cy="285.5" r="2.1"/><circle cx="1217.5" cy="287.0" r="2.1"/><circle cx="1221.0" cy="286.5" r="2.1"/><circle cx="1214.0" cy="291.0" r="2.1"/><circle cx="1219.5" cy="292.5" r="2.1"/><circle cx="1223.0" cy="290.0" r="2.1"/><circle cx="1212.0" cy="296.0" r="2.1"/><circle cx="1216.0" cy="297.0" r="2.1"/><circle cx="1221.0" cy="297.5" r="2.1"/><circle cx="1212.0" cy="301.5" r="2.1"/><circle cx="1216.5" cy="302.0" r="2.1"/><circle cx="1221.0" cy="302.0" r="2.1"/><circle cx="1224.0" cy="302.0" r="2.1"/><circle cx="1216.0" cy="306.0" r="2.1"/><circle cx="1218.5" cy="309.5" r="2.1"/><circle cx="1215.0" cy="313.0" r="2.1"/><circle cx="1217.5" cy="315.5" r="2.1"/><circle cx="1220.0" cy="317.0" r="2.1"/><circle cx="1214.0" cy="320.5" r="2.1"/><circle cx="1218.0" cy="320.5" r="2.1"/><circle cx="1215.5" cy="324.0" r="2.1"/><circle cx="1221.0" cy="323.5" r="2.1"/><circle cx="1218.5" cy="338.0" r="2.1"/><circle cx="1216.5" cy="341.5" r="2.1"/><circle cx="1216.5" cy="345.0" r="2.1"/><circle cx="1219.0" cy="348.0" r="2.1"/><circle cx="1217.5" cy="350.0" r="2.1"/><circle cx="1216.5" cy="353.0" r="2.1"/><circle cx="1216.2" cy="360.6" r="2.1"/><circle cx="1218.5" cy="360.6" r="2.1"/><circle cx="1217.5" cy="366.7" r="2.1"/><circle cx="1216.0" cy="374.5" r="2.1"/><circle cx="1218.5" cy="378.0" r="2.1"/></g>
<g fill="#666666"><circle cx="1248.7" cy="137.4" r="2.1"/><circle cx="1248.7" cy="243.2" r="2.1"/><circle cx="1248.7" cy="265.2" r="2.1"/><circle cx="1247.5" cy="306.5" r="2.1"/><circle cx="1250.0" cy="304.5" r="2.1"/><circle cx="1248.5" cy="313.5" r="2.1"/><circle cx="1247.5" cy="316.5" r="2.1"/><circle cx="1249.5" cy="320.5" r="2.1"/><circle cx="1250.0" cy="335.0" r="2.1"/><circle cx="1250.5" cy="340.0" r="2.1"/><circle cx="1246.0" cy="362.0" r="2.1"/><circle cx="1250.0" cy="361.0" r="2.1"/><circle cx="1253.0" cy="363.0" r="2.1"/><circle cx="1249.0" cy="366.0" r="2.1"/><circle cx="1251.5" cy="365.5" r="2.1"/><circle cx="1248.5" cy="370.0" r="2.1"/><circle cx="1246.0" cy="373.0" r="2.1"/><circle cx="1251.0" cy="373.0" r="2.1"/><circle cx="1242.0" cy="376.0" r="2.1"/><circle cx="1245.0" cy="375.5" r="2.1"/><circle cx="1253.0" cy="376.0" r="2.1"/><circle cx="1256.0" cy="377.0" r="2.1"/></g>
<g fill="#666666"><circle cx="1280.4" cy="222.9" r="2.1"/><circle cx="1280.4" cy="238.2" r="2.1"/><circle cx="1279.8" cy="257.2" r="2.1"/><circle cx="1281.3" cy="261.1" r="2.1"/><circle cx="1279.0" cy="265.0" r="2.1"/><circle cx="1282.0" cy="265.0" r="2.1"/><circle cx="1280.5" cy="269.0" r="2.1"/><circle cx="1280.4" cy="288.0" r="2.1"/><circle cx="1278.5" cy="305.5" r="2.1"/><circle cx="1281.5" cy="304.0" r="2.1"/><circle cx="1283.0" cy="303.5" r="2.1"/><circle cx="1280.0" cy="308.0" r="2.1"/><circle cx="1278.5" cy="311.0" r="2.1"/><circle cx="1281.5" cy="310.5" r="2.1"/><circle cx="1284.0" cy="314.0" r="2.1"/><circle cx="1276.5" cy="316.5" r="2.1"/><circle cx="1280.0" cy="316.0" r="2.1"/><circle cx="1282.5" cy="318.5" r="2.1"/><circle cx="1280.5" cy="320.0" r="2.1"/><circle cx="1279.0" cy="323.0" r="2.1"/><circle cx="1281.5" cy="324.5" r="2.1"/><circle cx="1283.0" cy="316.5" r="2.1"/><circle cx="1279.5" cy="323.0" r="2.1"/><circle cx="1282.0" cy="325.0" r="2.1"/><circle cx="1279.0" cy="327.0" r="2.1"/><circle cx="1276.0" cy="335.0" r="2.1"/><circle cx="1285.0" cy="336.0" r="2.1"/><circle cx="1276.0" cy="339.0" r="2.1"/><circle cx="1285.0" cy="340.5" r="2.1"/><circle cx="1278.5" cy="350.0" r="2.1"/><circle cx="1283.0" cy="350.5" r="2.1"/><circle cx="1280.0" cy="353.5" r="2.1"/><circle cx="1281.5" cy="357.5" r="2.1"/><circle cx="1278.0" cy="359.5" r="2.1"/><circle cx="1283.0" cy="361.0" r="2.1"/><circle cx="1280.0" cy="364.0" r="2.1"/><circle cx="1276.5" cy="367.0" r="2.1"/><circle cx="1281.5" cy="367.0" r="2.1"/><circle cx="1285.5" cy="366.0" r="2.1"/><circle cx="1273.0" cy="368.0" r="2.1"/><circle cx="1274.5" cy="370.5" r="2.1"/><circle cx="1278.5" cy="369.5" r="2.1"/><circle cx="1283.0" cy="370.5" r="2.1"/><circle cx="1287.0" cy="371.5" r="2.1"/><circle cx="1277.5" cy="374.0" r="2.1"/><circle cx="1283.0" cy="374.5" r="2.1"/><circle cx="1276.0" cy="377.5" r="2.1"/><circle cx="1281.0" cy="377.5" r="2.1"/><circle cx="1285.5" cy="377.0" r="2.1"/></g>
<g fill="#666666"><circle cx="1311.7" cy="327.9" r="2.1"/><circle cx="1311.7" cy="338.5" r="2.1"/><circle cx="1310.5" cy="349.5" r="2.1"/><circle cx="1313.0" cy="352.0" r="2.1"/><circle cx="1304.0" cy="360.0" r="2.1"/><circle cx="1308.0" cy="361.5" r="2.1"/><circle cx="1316.0" cy="361.0" r="2.1"/><circle cx="1318.5" cy="362.0" r="2.1"/><circle cx="1320.5" cy="365.0" r="2.1"/><circle cx="1311.5" cy="367.5" r="2.1"/><circle cx="1309.0" cy="371.0" r="2.1"/><circle cx="1313.0" cy="370.0" r="2.1"/><circle cx="1308.0" cy="373.5" r="2.1"/><circle cx="1312.5" cy="376.5" r="2.1"/><circle cx="1315.5" cy="378.0" r="2.1"/></g>
<g fill="#666666"><circle cx="1343.4" cy="227.0" r="2.1"/><circle cx="1342.5" cy="230.7" r="2.1"/><circle cx="1344.0" cy="233.2" r="2.1"/><circle cx="1341.5" cy="262.5" r="2.1"/><circle cx="1345.5" cy="262.8" r="2.1"/><circle cx="1343.5" cy="265.5" r="2.1"/><circle cx="1344.0" cy="267.5" r="2.1"/><circle cx="1343.4" cy="274.8" r="2.1"/><circle cx="1343.0" cy="281.5" r="2.1"/><circle cx="1344.5" cy="284.5" r="2.1"/><circle cx="1343.0" cy="287.5" r="2.1"/><circle cx="1342.5" cy="290.0" r="2.1"/><circle cx="1343.0" cy="293.0" r="2.1"/><circle cx="1346.0" cy="294.0" r="2.1"/><circle cx="1341.5" cy="295.5" r="2.1"/><circle cx="1344.0" cy="297.5" r="2.1"/><circle cx="1343.5" cy="300.5" r="2.1"/><circle cx="1344.0" cy="306.0" r="2.1"/><circle cx="1342.5" cy="310.0" r="2.1"/><circle cx="1340.0" cy="311.5" r="2.1"/><circle cx="1345.5" cy="312.5" r="2.1"/><circle cx="1347.0" cy="313.5" r="2.1"/><circle cx="1342.0" cy="315.5" r="2.1"/><circle cx="1345.0" cy="315.5" r="2.1"/><circle cx="1341.0" cy="330.0" r="2.1"/><circle cx="1346.0" cy="330.0" r="2.1"/><circle cx="1343.5" cy="342.0" r="2.1"/><circle cx="1338.5" cy="345.0" r="2.1"/><circle cx="1342.5" cy="346.0" r="2.1"/><circle cx="1346.5" cy="345.0" r="2.1"/><circle cx="1340.0" cy="349.0" r="2.1"/><circle cx="1344.0" cy="348.5" r="2.1"/><circle cx="1348.5" cy="349.5" r="2.1"/><circle cx="1341.5" cy="351.5" r="2.1"/><circle cx="1341.5" cy="356.0" r="2.1"/><circle cx="1345.0" cy="357.0" r="2.1"/><circle cx="1337.5" cy="360.0" r="2.1"/><circle cx="1342.5" cy="359.5" r="2.1"/><circle cx="1347.0" cy="360.0" r="2.1"/><circle cx="1335.0" cy="363.0" r="2.1"/><circle cx="1339.5" cy="363.5" r="2.1"/><circle cx="1344.0" cy="363.5" r="2.1"/><circle cx="1348.5" cy="362.5" r="2.1"/><circle cx="1351.5" cy="363.0" r="2.1"/><circle cx="1341.0" cy="367.0" r="2.1"/><circle cx="1345.5" cy="366.5" r="2.1"/><circle cx="1339.0" cy="369.5" r="2.1"/><circle cx="1343.0" cy="370.0" r="2.1"/><circle cx="1341.0" cy="373.5" r="2.1"/><circle cx="1344.0" cy="374.5" r="2.1"/><circle cx="1344.0" cy="377.5" r="2.1"/><circle cx="1346.0" cy="378.0" r="2.1"/></g>
<g fill="#666666"><circle cx="1373.7" cy="333.7" r="2.1"/><circle cx="1376.0" cy="337.5" r="2.1"/><circle cx="1376.0" cy="342.0" r="2.1"/><circle cx="1373.5" cy="345.5" r="2.1"/><circle cx="1374.7" cy="351.5" r="2.1"/><circle cx="1372.5" cy="355.0" r="2.1"/><circle cx="1375.0" cy="356.5" r="2.1"/><circle cx="1381.0" cy="363.0" r="2.1"/><circle cx="1366.5" cy="366.5" r="2.1"/><circle cx="1370.0" cy="366.0" r="2.1"/><circle cx="1383.0" cy="367.0" r="2.1"/><circle cx="1365.0" cy="375.0" r="2.1"/><circle cx="1369.0" cy="376.0" r="2.1"/><circle cx="1372.0" cy="377.5" r="2.1"/><circle cx="1374.5" cy="373.5" r="2.1"/><circle cx="1378.0" cy="372.5" r="2.1"/><circle cx="1381.0" cy="374.0" r="2.1"/><circle cx="1378.5" cy="377.5" r="2.1"/><circle cx="1383.0" cy="377.5" r="2.1"/></g>
<g fill="#666666"><circle cx="1406.4" cy="256.5" r="2.1"/><circle cx="1406.4" cy="266.5" r="2.1"/><circle cx="1405.0" cy="287.5" r="2.1"/><circle cx="1408.0" cy="287.0" r="2.1"/><circle cx="1406.0" cy="289.5" r="2.1"/><circle cx="1407.0" cy="295.0" r="2.1"/><circle cx="1405.5" cy="299.5" r="2.1"/><circle cx="1405.5" cy="303.5" r="2.1"/><circle cx="1405.0" cy="300.5" r="2.1"/><circle cx="1407.0" cy="306.5" r="2.1"/><circle cx="1406.0" cy="309.0" r="2.1"/><circle cx="1405.5" cy="313.5" r="2.1"/><circle cx="1407.0" cy="317.0" r="2.1"/><circle cx="1408.5" cy="319.5" r="2.1"/><circle cx="1406.0" cy="321.0" r="2.1"/><circle cx="1403.5" cy="322.5" r="2.1"/><circle cx="1407.5" cy="323.0" r="2.1"/><circle cx="1406.5" cy="326.0" r="2.1"/><circle cx="1405.5" cy="330.5" r="2.1"/><circle cx="1408.5" cy="331.5" r="2.1"/><circle cx="1404.0" cy="335.0" r="2.1"/><circle cx="1408.0" cy="335.5" r="2.1"/><circle cx="1411.0" cy="335.5" r="2.1"/><circle cx="1403.0" cy="346.0" r="2.1"/><circle cx="1410.5" cy="346.5" r="2.1"/><circle cx="1402.5" cy="353.5" r="2.1"/><circle cx="1407.0" cy="353.5" r="2.1"/><circle cx="1411.0" cy="352.0" r="2.1"/><circle cx="1405.0" cy="357.0" r="2.1"/><circle cx="1409.5" cy="357.5" r="2.1"/><circle cx="1404.0" cy="360.5" r="2.1"/><circle cx="1407.5" cy="361.5" r="2.1"/><circle cx="1404.5" cy="364.0" r="2.1"/><circle cx="1409.0" cy="364.0" r="2.1"/><circle cx="1401.5" cy="353.5" r="2.1"/><circle cx="1405.0" cy="354.5" r="2.1"/><circle cx="1412.5" cy="352.5" r="2.1"/><circle cx="1406.5" cy="358.5" r="2.1"/><circle cx="1404.5" cy="361.0" r="2.1"/><circle cx="1402.5" cy="363.0" r="2.1"/><circle cx="1406.0" cy="362.5" r="2.1"/><circle cx="1410.0" cy="363.5" r="2.1"/><circle cx="1401.0" cy="367.5" r="2.1"/><circle cx="1405.5" cy="367.0" r="2.1"/><circle cx="1410.0" cy="367.0" r="2.1"/><circle cx="1413.0" cy="368.0" r="2.1"/><circle cx="1399.5" cy="371.0" r="2.1"/><circle cx="1403.5" cy="371.5" r="2.1"/><circle cx="1407.5" cy="371.0" r="2.1"/><circle cx="1411.5" cy="372.0" r="2.1"/><circle cx="1400.0" cy="375.0" r="2.1"/><circle cx="1404.5" cy="375.0" r="2.1"/><circle cx="1408.5" cy="375.5" r="2.1"/><circle cx="1413.0" cy="375.5" r="2.1"/><circle cx="1401.0" cy="377.5" r="2.1"/><circle cx="1405.0" cy="378.0" r="2.1"/><circle cx="1410.0" cy="378.0" r="2.1"/><circle cx="1414.0" cy="378.0" r="2.1"/></g>
<g fill="#666666"><circle cx="1437.7" cy="283.2" r="2.1"/><circle cx="1437.7" cy="305.8" r="2.1"/><circle cx="1437.7" cy="330.0" r="2.1"/><circle cx="1438.0" cy="368.0" r="2.1"/><circle cx="1443.5" cy="366.0" r="2.1"/><circle cx="1432.5" cy="370.0" r="2.1"/><circle cx="1430.0" cy="373.5" r="2.1"/><circle cx="1435.5" cy="374.0" r="2.1"/><circle cx="1440.5" cy="377.5" r="2.1"/><circle cx="1445.5" cy="377.5" r="2.1"/></g>
<g fill="#666666"><circle cx="1469.4" cy="274.4" r="2.1"/><circle cx="1468.5" cy="299.5" r="2.1"/><circle cx="1470.5" cy="297.5" r="2.1"/><circle cx="1467.5" cy="313.5" r="2.1"/><circle cx="1470.0" cy="312.0" r="2.1"/><circle cx="1472.5" cy="311.5" r="2.1"/><circle cx="1470.5" cy="318.5" r="2.1"/><circle cx="1467.0" cy="322.0" r="2.1"/><circle cx="1470.0" cy="322.5" r="2.1"/><circle cx="1473.0" cy="322.0" r="2.1"/><circle cx="1469.5" cy="329.5" r="2.1"/><circle cx="1468.0" cy="333.0" r="2.1"/><circle cx="1470.5" cy="334.0" r="2.1"/><circle cx="1469.0" cy="337.0" r="2.1"/><circle cx="1471.5" cy="336.5" r="2.1"/><circle cx="1467.0" cy="348.0" r="2.1"/><circle cx="1472.0" cy="349.5" r="2.1"/><circle cx="1466.0" cy="352.0" r="2.1"/><circle cx="1474.0" cy="352.0" r="2.1"/><circle cx="1465.5" cy="360.0" r="2.1"/><circle cx="1470.0" cy="360.0" r="2.1"/><circle cx="1474.5" cy="360.5" r="2.1"/><circle cx="1463.0" cy="364.0" r="2.1"/><circle cx="1467.0" cy="365.0" r="2.1"/><circle cx="1471.0" cy="365.0" r="2.1"/><circle cx="1475.5" cy="364.5" r="2.1"/><circle cx="1478.0" cy="366.0" r="2.1"/><circle cx="1466.0" cy="366.5" r="2.1"/><circle cx="1467.5" cy="371.0" r="2.1"/><circle cx="1471.0" cy="371.0" r="2.1"/><circle cx="1467.0" cy="374.5" r="2.1"/><circle cx="1471.0" cy="373.0" r="2.1"/><circle cx="1469.0" cy="378.0" r="2.1"/><circle cx="1473.0" cy="378.0" r="2.1"/></g>
<line x1="996.75" y1="159.0" x2="996.75" y2="169.4" stroke="#000" stroke-width="3.4"/>
<line x1="991.75" y1="159.0" x2="1001.75" y2="159.0" stroke="#000" stroke-width="3"/>
<line x1="991.75" y1="169.4" x2="1001.75" y2="169.4" stroke="#000" stroke-width="3"/>
<line x1="1028.45" y1="331.6" x2="1028.45" y2="355.2" stroke="#000" stroke-width="3.4"/>
<line x1="1023.45" y1="331.6" x2="1033.45" y2="331.6" stroke="#000" stroke-width="3"/>
<line x1="1023.45" y1="355.2" x2="1033.45" y2="355.2" stroke="#000" stroke-width="3"/>
<line x1="1059.75" y1="163.9" x2="1059.75" y2="174.0" stroke="#000" stroke-width="3.4"/>
<line x1="1054.75" y1="163.9" x2="1064.75" y2="163.9" stroke="#000" stroke-width="3"/>
<line x1="1054.75" y1="174.0" x2="1064.75" y2="174.0" stroke="#000" stroke-width="3"/>
<line x1="1091.4499999999998" y1="135.6" x2="1091.4499999999998" y2="143.3" stroke="#000" stroke-width="3.4"/>
<line x1="1086.4499999999998" y1="135.6" x2="1096.4499999999998" y2="135.6" stroke="#000" stroke-width="3"/>
<line x1="1086.4499999999998" y1="143.3" x2="1096.4499999999998" y2="143.3" stroke="#000" stroke-width="3"/>
<line x1="1122.75" y1="212.5" x2="1122.75" y2="223.6" stroke="#000" stroke-width="3.4"/>
<line x1="1117.75" y1="212.5" x2="1127.75" y2="212.5" stroke="#000" stroke-width="3"/>
<line x1="1117.75" y1="223.6" x2="1127.75" y2="223.6" stroke="#000" stroke-width="3"/>
<line x1="1154.4499999999998" y1="154.3" x2="1154.4499999999998" y2="165.3" stroke="#000" stroke-width="3.4"/>
<line x1="1149.4499999999998" y1="154.3" x2="1159.4499999999998" y2="154.3" stroke="#000" stroke-width="3"/>
<line x1="1149.4499999999998" y1="165.3" x2="1159.4499999999998" y2="165.3" stroke="#000" stroke-width="3"/>
<line x1="1185.75" y1="308.9" x2="1185.75" y2="324.2" stroke="#000" stroke-width="3.4"/>
<line x1="1180.75" y1="308.9" x2="1190.75" y2="308.9" stroke="#000" stroke-width="3"/>
<line x1="1180.75" y1="324.2" x2="1190.75" y2="324.2" stroke="#000" stroke-width="3"/>
<line x1="1217.4499999999998" y1="265.5" x2="1217.4499999999998" y2="282.5" stroke="#000" stroke-width="3.4"/>
<line x1="1212.4499999999998" y1="265.5" x2="1222.4499999999998" y2="265.5" stroke="#000" stroke-width="3"/>
<line x1="1212.4499999999998" y1="282.5" x2="1222.4499999999998" y2="282.5" stroke="#000" stroke-width="3"/>
<line x1="1248.75" y1="328.1" x2="1248.75" y2="358.2" stroke="#000" stroke-width="3.4"/>
<line x1="1243.75" y1="328.1" x2="1253.75" y2="328.1" stroke="#000" stroke-width="3"/>
<line x1="1243.75" y1="358.2" x2="1253.75" y2="358.2" stroke="#000" stroke-width="3"/>
<line x1="1280.4499999999998" y1="330.7" x2="1280.4499999999998" y2="345.7" stroke="#000" stroke-width="3.4"/>
<line x1="1275.4499999999998" y1="330.7" x2="1285.4499999999998" y2="330.7" stroke="#000" stroke-width="3"/>
<line x1="1275.4499999999998" y1="345.7" x2="1285.4499999999998" y2="345.7" stroke="#000" stroke-width="3"/>
<line x1="1311.75" y1="355.7" x2="1311.75" y2="365.5" stroke="#000" stroke-width="3.4"/>
<line x1="1306.75" y1="355.7" x2="1316.75" y2="355.7" stroke="#000" stroke-width="3"/>
<line x1="1306.75" y1="365.5" x2="1316.75" y2="365.5" stroke="#000" stroke-width="3"/>
<line x1="1343.4499999999998" y1="322.3" x2="1343.4499999999998" y2="338.1" stroke="#000" stroke-width="3.4"/>
<line x1="1338.4499999999998" y1="322.3" x2="1348.4499999999998" y2="322.3" stroke="#000" stroke-width="3"/>
<line x1="1338.4499999999998" y1="338.1" x2="1348.4499999999998" y2="338.1" stroke="#000" stroke-width="3"/>
<line x1="1374.75" y1="359.7" x2="1374.75" y2="368.3" stroke="#000" stroke-width="3.4"/>
<line x1="1369.75" y1="359.7" x2="1379.75" y2="359.7" stroke="#000" stroke-width="3"/>
<line x1="1369.75" y1="368.3" x2="1379.75" y2="368.3" stroke="#000" stroke-width="3"/>
<line x1="1406.4499999999998" y1="337.9" x2="1406.4499999999998" y2="350.4" stroke="#000" stroke-width="3.4"/>
<line x1="1401.4499999999998" y1="337.9" x2="1411.4499999999998" y2="337.9" stroke="#000" stroke-width="3"/>
<line x1="1401.4499999999998" y1="350.4" x2="1411.4499999999998" y2="350.4" stroke="#000" stroke-width="3"/>
<line x1="1437.75" y1="336.3" x2="1437.75" y2="365.5" stroke="#000" stroke-width="3.4"/>
<line x1="1432.75" y1="336.3" x2="1442.75" y2="336.3" stroke="#000" stroke-width="3"/>
<line x1="1432.75" y1="365.5" x2="1442.75" y2="365.5" stroke="#000" stroke-width="3"/>
<line x1="1469.4499999999998" y1="342.5" x2="1469.4499999999998" y2="356.0" stroke="#000" stroke-width="3.4"/>
<line x1="1464.4499999999998" y1="342.5" x2="1474.4499999999998" y2="342.5" stroke="#000" stroke-width="3"/>
<line x1="1464.4499999999998" y1="356.0" x2="1474.4499999999998" y2="356.0" stroke="#000" stroke-width="3"/>
<rect x="974.6" y="72.2" width="3.4" height="349" fill="#000"/>
<rect x="966" y="417.80" width="10" height="3.4" fill="#000"/>
<rect x="970.1" y="397.10" width="6" height="3.2" fill="#000"/>
<rect x="970.1" y="384.93" width="6" height="3.2" fill="#000"/>
<rect x="970.1" y="376.30" width="6" height="3.2" fill="#000"/>
<rect x="970.1" y="369.60" width="6" height="3.2" fill="#000"/>
<rect x="970.1" y="364.13" width="6" height="3.2" fill="#000"/>
<rect x="970.1" y="359.50" width="6" height="3.2" fill="#000"/>
<rect x="970.1" y="355.50" width="6" height="3.2" fill="#000"/>
<rect x="970.1" y="351.96" width="6" height="3.2" fill="#000"/>
<rect x="966" y="348.70" width="10" height="3.4" fill="#000"/>
<rect x="970.1" y="328.00" width="6" height="3.2" fill="#000"/>
<rect x="970.1" y="315.83" width="6" height="3.2" fill="#000"/>
<rect x="970.1" y="307.20" width="6" height="3.2" fill="#000"/>
<rect x="970.1" y="300.50" width="6" height="3.2" fill="#000"/>
<rect x="970.1" y="295.03" width="6" height="3.2" fill="#000"/>
<rect x="970.1" y="290.40" width="6" height="3.2" fill="#000"/>
<rect x="970.1" y="286.40" width="6" height="3.2" fill="#000"/>
<rect x="970.1" y="282.86" width="6" height="3.2" fill="#000"/>
<rect x="966" y="279.60" width="10" height="3.4" fill="#000"/>
<rect x="970.1" y="258.90" width="6" height="3.2" fill="#000"/>
<rect x="970.1" y="246.73" width="6" height="3.2" fill="#000"/>
<rect x="970.1" y="238.10" width="6" height="3.2" fill="#000"/>
<rect x="970.1" y="231.40" width="6" height="3.2" fill="#000"/>
<rect x="970.1" y="225.93" width="6" height="3.2" fill="#000"/>
<rect x="970.1" y="221.30" width="6" height="3.2" fill="#000"/>
<rect x="970.1" y="217.30" width="6" height="3.2" fill="#000"/>
<rect x="970.1" y="213.76" width="6" height="3.2" fill="#000"/>
<rect x="966" y="210.50" width="10" height="3.4" fill="#000"/>
<rect x="970.1" y="189.80" width="6" height="3.2" fill="#000"/>
<rect x="970.1" y="177.63" width="6" height="3.2" fill="#000"/>
<rect x="970.1" y="169.00" width="6" height="3.2" fill="#000"/>
<rect x="970.1" y="162.30" width="6" height="3.2" fill="#000"/>
<rect x="970.1" y="156.83" width="6" height="3.2" fill="#000"/>
<rect x="970.1" y="152.20" width="6" height="3.2" fill="#000"/>
<rect x="970.1" y="148.20" width="6" height="3.2" fill="#000"/>
<rect x="970.1" y="144.66" width="6" height="3.2" fill="#000"/>
<rect x="966" y="141.40" width="10" height="3.4" fill="#000"/>
<rect x="970.1" y="120.70" width="6" height="3.2" fill="#000"/>
<rect x="970.1" y="108.53" width="6" height="3.2" fill="#000"/>
<rect x="970.1" y="99.90" width="6" height="3.2" fill="#000"/>
<rect x="970.1" y="93.20" width="6" height="3.2" fill="#000"/>
<rect x="970.1" y="87.73" width="6" height="3.2" fill="#000"/>
<rect x="970.1" y="83.10" width="6" height="3.2" fill="#000"/>
<rect x="970.1" y="79.10" width="6" height="3.2" fill="#000"/>
<rect x="970.1" y="75.56" width="6" height="3.2" fill="#000"/>
<rect x="966" y="72.30" width="10" height="3.4" fill="#000"/>
<rect x="966" y="417.9" width="530.5" height="3.4" fill="#000"/>
<text transform="translate(963.00,429.20) scale(1.0,1.05)" style="font-size:27px;font-weight:bold;font-family:'Liberation Sans',sans-serif;text-anchor:end">10</text>
<text transform="translate(963.00,360.10) scale(1.0,1.05)" style="font-size:27px;font-weight:bold;font-family:'Liberation Sans',sans-serif;text-anchor:end">100</text>
<text transform="translate(963.00,291.00) scale(1.0,1.05)" style="font-size:27px;font-weight:bold;font-family:'Liberation Sans',sans-serif;text-anchor:end">1000</text>
<text transform="translate(963.00,221.90) scale(1.0,1.05)" style="font-size:27px;font-weight:bold;font-family:'Liberation Sans',sans-serif;text-anchor:end">10000</text>
<text transform="translate(963.00,152.80) scale(1.0,1.05)" style="font-size:27px;font-weight:bold;font-family:'Liberation Sans',sans-serif;text-anchor:end">100000</text>
<text transform="translate(963.00,83.70) scale(1.0,1.05)" style="font-size:27px;font-weight:bold;font-family:'Liberation Sans',sans-serif;text-anchor:end">1000000</text>
<text transform="translate(1012.60,451.00) scale(1.0,1.1)" style="font-size:27px;font-weight:normal;font-family:'Liberation Sans',sans-serif;text-anchor:middle;stroke:#000;stroke-width:0.35px">6</text>
<text transform="translate(1075.30,451.00) scale(1.0,1.1)" style="font-size:27px;font-weight:normal;font-family:'Liberation Sans',sans-serif;text-anchor:middle;stroke:#000;stroke-width:0.35px">16</text>
<text transform="translate(1136.50,451.00) scale(1.0,1.1)" style="font-size:27px;font-weight:normal;font-family:'Liberation Sans',sans-serif;text-anchor:middle;stroke:#000;stroke-width:0.35px">18</text>
<text transform="translate(1201.20,451.00) scale(1.0,1.1)" style="font-size:27px;font-weight:normal;font-family:'Liberation Sans',sans-serif;text-anchor:middle;stroke:#000;stroke-width:0.35px">31</text>
<text transform="translate(1265.50,451.00) scale(1.0,1.1)" style="font-size:27px;font-weight:normal;font-family:'Liberation Sans',sans-serif;text-anchor:middle;stroke:#000;stroke-width:0.35px">33</text>
<text transform="translate(1326.40,451.00) scale(1.0,1.1)" style="font-size:27px;font-weight:normal;font-family:'Liberation Sans',sans-serif;text-anchor:middle;stroke:#000;stroke-width:0.35px">45</text>
<text transform="translate(1389.70,451.00) scale(1.0,1.1)" style="font-size:27px;font-weight:normal;font-family:'Liberation Sans',sans-serif;text-anchor:middle;stroke:#000;stroke-width:0.35px">52</text>
<text transform="translate(1452.90,451.00) scale(1.0,1.1)" style="font-size:27px;font-weight:normal;font-family:'Liberation Sans',sans-serif;text-anchor:middle;stroke:#000;stroke-width:0.35px">58</text>
<text transform="translate(1236.50,490.80) scale(1.0,1.02)" style="font-size:29px;font-weight:bold;font-family:'Liberation Sans',sans-serif;text-anchor:middle">HPV types</text>
<text transform="translate(1237.50,28.40) scale(1.0,1.0)" style="font-size:36.5px;font-weight:bold;font-family:'Liberation Sans',sans-serif;text-anchor:middle">Neutralization titer</text>
<text transform="translate(825.00,30.60) scale(1.0,1.0)" style="font-size:41.5px;font-weight:bold;font-family:'Liberation Serif',serif;text-anchor:start">b</text>
<text transform="translate(848.20,245.80) rotate(-90) scale(1.0,1.08)" style="font-size:28px;font-weight:bold;font-family:'Liberation Sans',sans-serif;text-anchor:middle">GMT</text>
</svg>
</body></html>
